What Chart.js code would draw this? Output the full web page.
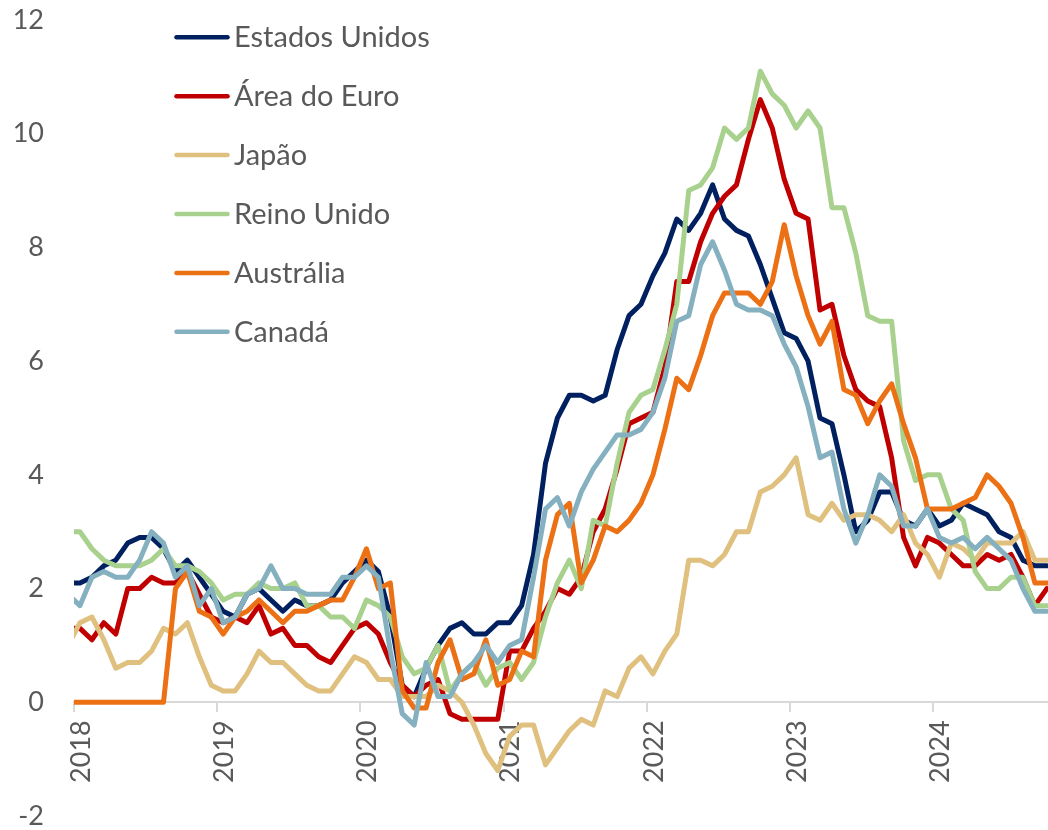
<!DOCTYPE html>
<html>
<head>
<meta charset="utf-8">
<script src="https://cdn.jsdelivr.net/npm/chart.js@4.4.1/dist/chart.umd.min.js"></script>
<style>
  html, body { margin: 0; padding: 0; background: #fff; }
  #wrap { width: 1048px; height: 830px; }
</style>
</head>
<body>
<div id="wrap"><canvas id="inflacaoChart" width="1048" height="830"></canvas></div>
<script>
// Inflação ao consumidor (% a/a), dados mensais de dez/2017 a out/2024
const primeiroMes = { ano: 2017, mes: 12 };

const paises = ['Estados Unidos', 'Área do Euro', 'Japão', 'Reino Unido', 'Austrália', 'Canadá'];
const cores = ['#002060', '#C00000', '#DFC07E', '#A9D18E', '#EC7014', '#85B0BF'];

const estadosUnidos = [2.1,
    2.1, 2.2, 2.4, 2.5, 2.8, 2.9, 2.9, 2.7, 2.3, 2.5, 2.2, 1.9,
    1.6, 1.5, 1.9, 2.0, 1.8, 1.6, 1.8, 1.7, 1.7, 1.8, 2.1, 2.3,
    2.5, 2.3, 1.5, 0.3, 0.1, 0.6, 1.0, 1.3, 1.4, 1.2, 1.2, 1.4,
    1.4, 1.7, 2.6, 4.2, 5.0, 5.4, 5.4, 5.3, 5.4, 6.2, 6.8, 7.0,
    7.5, 7.9, 8.5, 8.3, 8.6, 9.1, 8.5, 8.3, 8.2, 7.7, 7.1, 6.5,
    6.4, 6.0, 5.0, 4.9, 4.0, 3.0, 3.2, 3.7, 3.7, 3.2, 3.1, 3.4,
    3.1, 3.2, 3.5, 3.4, 3.3, 3.0, 2.9, 2.5, 2.4, 2.4];

const areaDoEuro = [1.3,
    1.3, 1.1, 1.4, 1.2, 2.0, 2.0, 2.2, 2.1, 2.1, 2.3, 1.9, 1.5,
    1.4, 1.5, 1.4, 1.7, 1.2, 1.3, 1.0, 1.0, 0.8, 0.7, 1.0, 1.3,
    1.4, 1.2, 0.7, 0.3, 0.1, 0.3, 0.4, -0.2, -0.3, -0.3, -0.3, -0.3,
    0.9, 0.9, 1.3, 1.6, 2.0, 1.9, 2.2, 3.0, 3.4, 4.1, 4.9, 5.0,
    5.1, 5.9, 7.4, 7.4, 8.1, 8.6, 8.9, 9.1, 9.9, 10.6, 10.1, 9.2,
    8.6, 8.5, 6.9, 7.0, 6.1, 5.5, 5.3, 5.2, 4.3, 2.9, 2.4, 2.9,
    2.8, 2.6, 2.4, 2.4, 2.6, 2.5, 2.6, 2.2, 1.7, 2.0];

const japao = [1.0,
    1.4, 1.5, 1.1, 0.6, 0.7, 0.7, 0.9, 1.3, 1.2, 1.4, 0.8, 0.3,
    0.2, 0.2, 0.5, 0.9, 0.7, 0.7, 0.5, 0.3, 0.2, 0.2, 0.5, 0.8,
    0.7, 0.4, 0.4, 0.1, 0.1, 0.1, 0.3, 0.2, 0.0, -0.4, -0.9, -1.2,
    -0.6, -0.4, -0.4, -1.1, -0.8, -0.5, -0.3, -0.4, 0.2, 0.1, 0.6, 0.8,
    0.5, 0.9, 1.2, 2.5, 2.5, 2.4, 2.6, 3.0, 3.0, 3.7, 3.8, 4.0,
    4.3, 3.3, 3.2, 3.5, 3.2, 3.3, 3.3, 3.2, 3.0, 3.3, 2.8, 2.6,
    2.2, 2.8, 2.7, 2.5, 2.8, 2.8, 2.8, 3.0, 2.5, 2.5];

const reinoUnido = [3.0,
    3.0, 2.7, 2.5, 2.4, 2.4, 2.4, 2.5, 2.7, 2.4, 2.4, 2.3, 2.1,
    1.8, 1.9, 1.9, 2.1, 2.0, 2.0, 2.1, 1.7, 1.7, 1.5, 1.5, 1.3,
    1.8, 1.7, 1.5, 0.8, 0.5, 0.6, 1.0, 0.2, 0.5, 0.7, 0.3, 0.6,
    0.7, 0.4, 0.7, 1.5, 2.1, 2.5, 2.0, 3.2, 3.1, 4.2, 5.1, 5.4,
    5.5, 6.2, 7.0, 9.0, 9.1, 9.4, 10.1, 9.9, 10.1, 11.1, 10.7, 10.5,
    10.1, 10.4, 10.1, 8.7, 8.7, 7.9, 6.8, 6.7, 6.7, 4.6, 3.9, 4.0,
    4.0, 3.4, 3.2, 2.3, 2.0, 2.0, 2.2, 2.2, 1.7, 1.7];

const australia = [0,
    0, 0, 0, 0, 0, 0, 0, 0, 2.0, 2.3, 1.6, 1.5,
    1.2, 1.5, 1.6, 1.8, 1.6, 1.4, 1.6, 1.6, 1.7, 1.8, 1.8, 2.2,
    2.7, 2.0, 2.1, 0.2, -0.1, -0.1, 0.7, 1.1, 0.4, 0.5, 1.1, 0.3,
    0.4, 0.9, 0.8, 2.5, 3.3, 3.5, 2.1, 2.5, 3.1, 3.0, 3.2, 3.5,
    4.0, 4.8, 5.7, 5.5, 6.1, 6.8, 7.2, 7.2, 7.2, 7.0, 7.4, 8.4,
    7.5, 6.8, 6.3, 6.7, 5.5, 5.4, 4.9, 5.3, 5.6, 4.9, 4.3, 3.4,
    3.4, 3.4, 3.5, 3.6, 4.0, 3.8, 3.5, 2.9, 2.1, 2.1];

const canada = [1.9,
    1.7, 2.2, 2.3, 2.2, 2.2, 2.5, 3.0, 2.8, 2.2, 2.4, 1.7, 2.0,
    1.4, 1.5, 1.9, 2.0, 2.4, 2.0, 2.0, 1.9, 1.9, 1.9, 2.2, 2.2,
    2.4, 2.2, 0.9, -0.2, -0.4, 0.7, 0.1, 0.1, 0.5, 0.7, 1.0, 0.7,
    1.0, 1.1, 2.2, 3.4, 3.6, 3.1, 3.7, 4.1, 4.4, 4.7, 4.7, 4.8,
    5.1, 5.7, 6.7, 6.8, 7.7, 8.1, 7.6, 7.0, 6.9, 6.9, 6.8, 6.3,
    5.9, 5.2, 4.3, 4.4, 3.4, 2.8, 3.3, 4.0, 3.8, 3.1, 3.1, 3.4,
    2.9, 2.8, 2.9, 2.7, 2.9, 2.7, 2.5, 2.0, 1.6, 1.6];

const series = [estadosUnidos, areaDoEuro, japao, reinoUnido, australia, canada];

// Eixos
const eixoX = { min: 2018, max: 2024.8 };
const eixoY = { min: -2, max: 12, passo: 2 };

// Cada observação fica no meio do mês, em anos fracionários
function pontos(serie) {
    return serie.map((v, i) => {
        const m = primeiroMes.mes - 1 + i;
        return { x: primeiroMes.ano + (m + 0.5) / 12, y: v };
    });
}

// Legenda desenhada dentro da área do gráfico, no canto superior esquerdo
const legendaInterna = {
    id: 'legendaInterna',
    afterDraw(chart) {
        const ctx = chart.ctx;
        ctx.save();
        ctx.font = '29px Lato';
        ctx.fillStyle = '#595959';
        ctx.textBaseline = 'alphabetic';
        chart.data.datasets.forEach((ds, i) => {
            const y = 37.3 + i * 58.9;
            ctx.strokeStyle = ds.borderColor;
            ctx.lineWidth = 4.5;
            ctx.lineCap = 'round';
            ctx.beginPath();
            ctx.moveTo(176.5, y);
            ctx.lineTo(227.5, y);
            ctx.stroke();
            ctx.fillText(ds.label, 234, y + 10);
        });
        ctx.restore();
    }
};

Chart.defaults.font.family = 'Lato';
Chart.defaults.color = '#595959';

new Chart(document.getElementById('inflacaoChart'), {
    type: 'line',
    data: {
        datasets: paises.map((nome, i) => ({
            label: nome,
            data: pontos(series[i]),
            borderColor: cores[i],
            backgroundColor: cores[i],
            borderWidth: 5,
            borderJoinStyle: 'round',
            borderCapStyle: 'round',
            pointRadius: 0,
            tension: 0,
            fill: false,
            order: paises.length - i
        }))
    },
    options: {
        responsive: false,
        animation: false,
        devicePixelRatio: 1,
        layout: {
            padding: { top: 20, bottom: 14, left: 0, right: 0 }
        },
        plugins: {
            legend: { display: false },
            tooltip: { enabled: false }
        },
        scales: {
            x: {
                type: 'linear',
                position: { y: 0 },
                min: eixoX.min,
                max: eixoX.max,
                afterFit: (scale) => { scale.height = 0; },
                grid: {
                    drawOnChartArea: false,
                    drawTicks: true,
                    tickLength: 9,
                    color: '#d9d9d9',
                    lineWidth: 2
                },
                border: { display: true, color: '#d9d9d9', width: 2 },
                ticks: {
                    stepSize: 1,
                    includeBounds: false,
                    autoSkip: false,
                    minRotation: 90,
                    maxRotation: 90,
                    padding: 9,
                    labelOffset: 7,
                    font: { size: 27, lineHeight: 1 },
                    color: '#595959',
                    callback: (v) => String(v)
                }
            },
            y: {
                min: eixoY.min,
                max: eixoY.max,
                afterFit: (scale) => { scale.width = 74; },
                // marcas invisíveis só para afastar os rótulos do eixo
                grid: {
                    drawOnChartArea: false,
                    drawTicks: true,
                    tickLength: 30,
                    color: 'rgba(0,0,0,0)'
                },
                border: { display: false },
                ticks: {
                    stepSize: eixoY.passo,
                    padding: 0,
                    font: { size: 27, lineHeight: 1 },
                    color: '#595959'
                }
            }
        }
    },
    plugins: [legendaInterna]
});
</script>
</body>
</html>
